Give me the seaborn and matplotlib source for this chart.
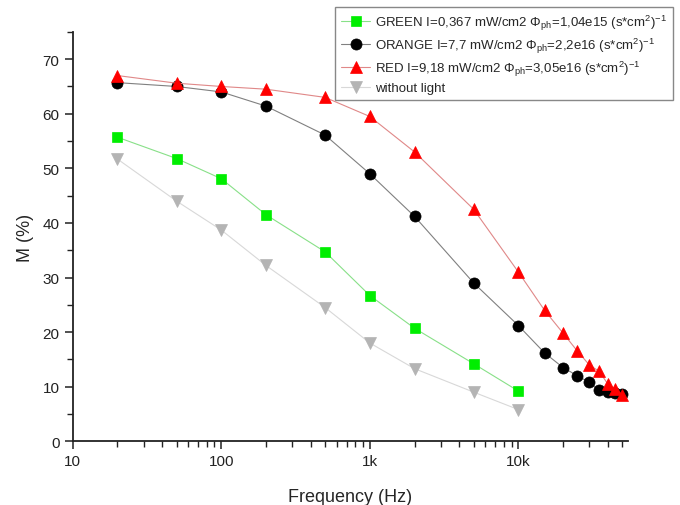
import numpy as np
import pandas as pd
import matplotlib
matplotlib.use('Agg')
import matplotlib.pyplot as plt
import matplotlib.ticker as mticker
import seaborn as sns

# frequencies (Hz)
freq_long = [20, 50, 100, 200, 500, 1000, 2000, 5000, 10000, 15000, 20000, 25000, 30000, 35000, 40000, 45000, 50000]
freq_short = [20, 50, 100, 200, 500, 1000, 2000, 5000, 10000]

# M (%) per illumination
m_green = [55.7, 51.8, 48.1, 41.5, 34.7, 26.7, 20.7, 14.2, 9.2]
m_orange = [65.7, 65.0, 64.0, 61.4, 56.1, 49.0, 41.2, 29.0, 21.2, 16.2, 13.5, 12.0, 10.8, 9.3, 9.0, 8.9, 8.7]
m_red = [67.0, 65.6, 65.0, 64.5, 63.0, 59.5, 53.0, 42.5, 31.0, 24.0, 19.8, 16.5, 14.0, 12.8, 10.5, 9.5, 8.5]
m_dark = [51.7, 44.0, 38.7, 32.2, 24.5, 18.0, 13.3, 9.0, 5.8]

labels = [
    r'GREEN I=0,367 mW/cm2 $\Phi_{ph}$=1,04e15 (s*cm$^2$)$^{-1}$',
    r'ORANGE I=7,7 mW/cm2 $\Phi_{ph}$=2,2e16 (s*cm$^2$)$^{-1}$',
    r'RED I=9,18 mW/cm2 $\Phi_{ph}$=3,05e16 (s*cm$^2$)$^{-1}$',
    'without light',
]

sns.set_style('ticks')
plt.rcParams['font.family'] = ['Liberation Sans', 'DejaVu Sans']
plt.rcParams['mathtext.fontset'] = 'custom'
plt.rcParams['mathtext.rm'] = 'Liberation Sans'
plt.rcParams['mathtext.it'] = 'Liberation Sans'

fig = plt.figure(figsize=(6.8, 5.06), dpi=100)
ax = fig.add_axes([0.107, 0.126, 0.817, 0.809])

series = [
    (freq_short, m_green, 's', '#00ee00', '#88e088', 7.5),
    (freq_long, m_orange, 'o', 'black', '#808080', 8),
    (freq_long, m_red, '^', '#ff0000', '#e08888', 9),
    (freq_short, m_dark, 'v', '#b4b4b4', '#d8d8d8', 9),
]
for (x, y, mk, mcol, lcol, ms), lab in zip(series, labels):
    sns.lineplot(x=x, y=y, ax=ax, color=lcol, lw=0.8, marker=mk, markersize=ms,
                 markerfacecolor=mcol, markeredgecolor=mcol, markeredgewidth=0.5,
                 label=lab)

ax.set_xscale('log')
ax.set_xlim(10, 55000)
ax.set_ylim(0, 75)
ax.xaxis.set_major_locator(mticker.FixedLocator([10, 100, 1000, 10000]))
ax.xaxis.set_major_formatter(mticker.FixedFormatter(['10', '100', '1k', '10k']))
ax.xaxis.set_minor_locator(mticker.LogLocator(base=10, subs=np.arange(2, 10), numticks=20))
ax.xaxis.set_minor_formatter(mticker.NullFormatter())
ax.yaxis.set_major_locator(mticker.MultipleLocator(10))
ax.yaxis.set_minor_locator(mticker.MultipleLocator(5))

sns.despine(ax=ax)
for s in ['left', 'bottom']:
    ax.spines[s].set_linewidth(1.3)
    ax.spines[s].set_color('#222222')
ax.tick_params(which='major', length=6, width=1.1, labelsize=11, colors='#222222')
ax.tick_params(which='minor', length=4, width=1.0, colors='#222222')

ax.set_xlabel('Frequency (Hz)', fontsize=13, labelpad=14)
ax.set_ylabel('M (%)', fontsize=13, labelpad=6)

ax.legend(loc='upper right', bbox_to_anchor=(0.99, 0.985), bbox_transform=fig.transFigure,
          fontsize=9.5, frameon=True, fancybox=False, edgecolor='#888888', framealpha=1,
          handlelength=2.2, labelspacing=0.3, borderpad=0.45, handletextpad=0.4,
          borderaxespad=0)

fig.savefig('out.png', dpi=100)
